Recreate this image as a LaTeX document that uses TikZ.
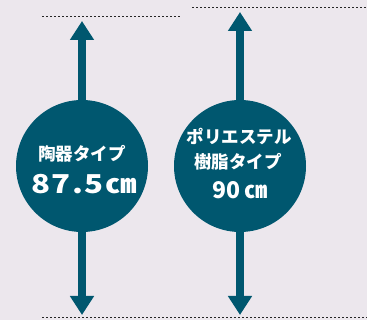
\documentclass[tikz,border=0pt]{standalone}
\usepackage{fontspec}
\newfontfamily\jpfont{Noto Sans CJK JP}
\usetikzlibrary{arrows.meta}
\definecolor{tealdark}{HTML}{00576F}
\definecolor{paper}{HTML}{ECE7ED}

\begin{document}
\begin{tikzpicture}[x=1pt,y=-1pt,
    disc/.style={circle,fill=tealdark,minimum size=132pt,inner sep=0pt},
    dimarrow/.style={tealdark,line width=8pt,-{Triangle[width=23pt,length=19pt]}},
    guide/.style={line width=1pt,black!85,dash pattern=on 2pt off 2pt},
    kind/.style={text=white,inner sep=0pt,font=\jpfont\bfseries\fontsize{17.5}{21}\selectfont},
    dimtext/.style={text=white,inner sep=0pt,font=\jpfont\bfseries\fontsize{23}{27}\selectfont}]
\fill[paper] (0,0) rectangle (367,320);
\useasboundingbox (0,0) rectangle (367,320);
% guide lines
\coordinate (lg1) at (42,17);
\coordinate (lg2) at (180,17);
\coordinate (rg1) at (192,8);
\coordinate (rg2) at (367,8);
\coordinate (bg1) at (42,318);
\coordinate (bg2) at (367,318);
\draw[guide] (lg1) -- (lg2);
\draw[guide] (rg1) -- (rg2);
\draw[guide] (bg1) -- (bg2);
% discs
\node[disc] (lc) at (82,166) {};
\node[disc] (rc) at (240,166) {};
% arrows
\coordinate (lt) at (82,21);
\coordinate (lb) at (82,315);
\coordinate (rt) at (240,12);
\coordinate (rb) at (240,315);
\draw[dimarrow] (lc.north) -- (lt);
\draw[dimarrow] (lc.south) -- (lb);
\draw[dimarrow] (rc.north) -- (rt);
\draw[dimarrow] (rc.south) -- (rb);
% labels
\node[kind] (lkind) at (82,153.5) {陶器タイプ};
\node[dimtext,font=\jpfont\bfseries\fontsize{26}{30}\selectfont\addfontfeature{FakeStretch=1.2,LetterSpace=6}] (ldim) at (84,184) {87.5㎝};
\node[kind] (rkind1) at (239,136.5) {ポリエステル};
\node[kind] (rkind2) at (238,161.5) {樹脂タイプ};
\node[dimtext] (rdim) at (240,190) {90\,㎝};
\end{tikzpicture}
\end{document}
